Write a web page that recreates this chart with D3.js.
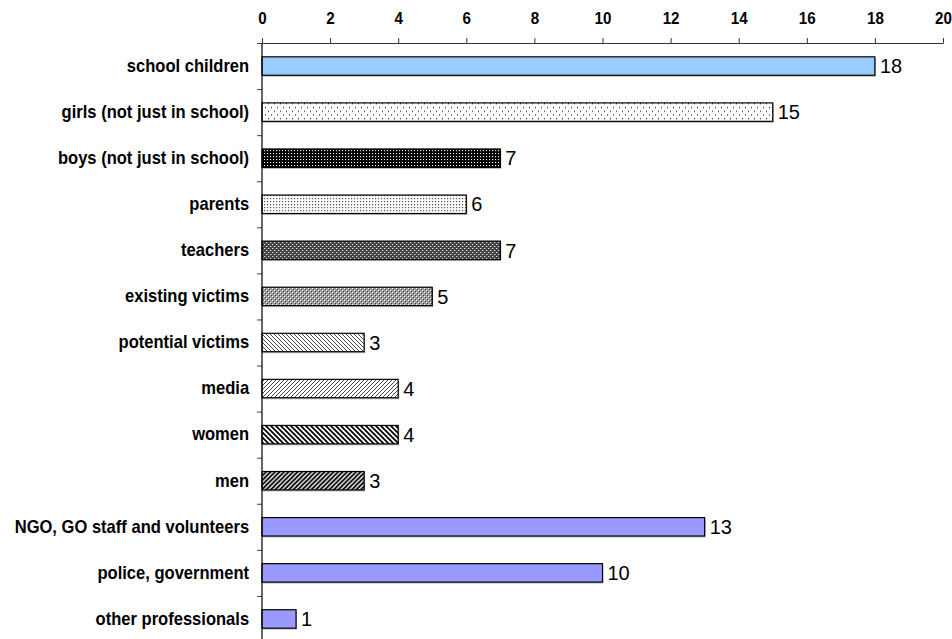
<!DOCTYPE html>
<html>
<head>
<meta charset="utf-8">
<script src="https://cdn.jsdelivr.net/npm/d3@7"></script>
<style>
  html, body { margin: 0; padding: 0; background: #fff; }
  svg { display: block; }
  text { font-family: "Liberation Sans", Arial, sans-serif; }
</style>
</head>
<body>
<svg id="chart" width="952" height="639"></svg>
<script>
const categories = [
  "school children",
  "girls (not just in school)",
  "boys (not just in school)",
  "parents",
  "teachers",
  "existing victims",
  "potential victims",
  "media",
  "women",
  "men",
  "NGO, GO staff and volunteers",
  "police, government",
  "other professionals"
];
const values = [18, 15, 7, 6, 7, 5, 3, 4, 4, 3, 13, 10, 1];
const fills = [
  "#99CCFF", "url(#p-girls)", "url(#p-boys)", "url(#p-parents)", "url(#p-teachers)",
  "url(#p-existing)", "url(#p-potential)", "url(#p-media)", "url(#p-women)", "url(#p-men)",
  "#9999FF", "#9999FF", "#9999FF"
];
const xTicks = [0, 2, 4, 6, 8, 10, 12, 14, 16, 18, 20];

const svg = d3.select("#chart");
const defs = svg.append("defs");

function pat(id, w, h, bg) {
  const p = defs.append("pattern").attr("id", id).attr("patternUnits", "userSpaceOnUse")
    .attr("width", w).attr("height", h);
  p.append("rect").attr("width", w).attr("height", h).attr("fill", bg);
  return p;
}
function dots(p, pts, color, s) {
  pts.forEach(([x, y]) => p.append("rect").attr("x", x).attr("y", y).attr("width", s || 1).attr("height", s || 1).attr("fill", color));
}
// girls: sparse dots
dots(pat("p-girls", 6, 7.5, "#fff"), [[1, 2], [4, 5.75]], "#000", 1);
// boys: black with white dots
dots(pat("p-boys", 3, 3, "#000"), [[0, 0]], "#fff", 1.1);
// parents: light dotted
dots(pat("p-parents", 3, 3, "#fff"), [[0, 0]], "#555", 1.2);
// teachers: dark checker
{
  const p = pat("p-teachers", 4, 4, "#444");
  dots(p, [[0, 0], [2, 2]], "#ddd", 1);
  dots(p, [[1, 0], [3, 2]], "#777", 1);
}
// existing victims: lighter checker
{
  const p = pat("p-existing", 4, 4, "#999");
  dots(p, [[0, 0], [2, 2]], "#fff", 1);
  dots(p, [[1, 1], [3, 3]], "#444", 1);
}
function diag(id, w, sw, color, dir, bg) {
  const p = pat(id, w, w, bg);
  const d = dir > 0
    ? `M0,${w} L${w},0 M${-w / 2},${w / 2} L${w / 2},${-w / 2} M${w / 2},${w * 1.5} L${w * 1.5},${w / 2}`
    : `M0,0 L${w},${w} M${-w / 2},${w / 2} L${w / 2},${w * 1.5} M${w / 2},${-w / 2} L${w * 1.5},${w / 2}`;
  p.append("path").attr("d", d).attr("stroke", color).attr("stroke-width", sw).attr("fill", "none");
}
diag("p-potential", 4, 0.9, "#333", -1, "#fff");
diag("p-media", 4, 0.9, "#333", 1, "#fff");
diag("p-women", 5, 1.8, "#000", -1, "#fff");
diag("p-men", 4.5, 1.8, "#000", 1, "#fff");

const x = d3.scaleLinear().domain([0, 20]).range([262, 943]);
const y = d3.scaleBand().domain(categories).range([43, 642]).paddingInner(0.6).paddingOuter(0.3);
const yIdx = d3.scaleLinear().domain([0, categories.length]).range([43, 642]);

// x axis on top
const xAxis = svg.append("g").attr("transform", "translate(0,43)")
  .call(d3.axisTop(x).tickValues(xTicks).tickSize(5).tickSizeOuter(0).tickPadding(13));
xAxis.select(".domain").attr("stroke", "#333");
xAxis.selectAll(".tick line").attr("stroke", "#333");
xAxis.selectAll(".tick text").attr("font-size", "16px").attr("font-weight", "bold")
  .attr("fill", "#000").attr("font-family", "Liberation Sans, Arial, sans-serif")
  .attr("transform", "scale(0.95,1.05)");

// y axis: boundary ticks
const yAxisTicks = svg.append("g").attr("transform", "translate(262,0)")
  .call(d3.axisLeft(yIdx).tickValues(d3.range(0, categories.length + 1)).tickSize(5).tickFormat(""));
yAxisTicks.select(".domain").remove();
yAxisTicks.selectAll(".tick line").attr("stroke", "#444");

// category labels
const yAxis = svg.append("g").attr("transform", "translate(262,0)")
  .call(d3.axisLeft(y).tickSize(0).tickPadding(14));
yAxis.select(".domain").remove();
yAxis.selectAll(".tick text").attr("font-size", "18px").attr("font-weight", "bold")
  .attr("fill", "#000").attr("font-family", "Liberation Sans, Arial, sans-serif")
  .attr("transform", "scale(0.92,1)");

// bar shadows
svg.append("g").selectAll("rect").data(values).join("rect")
  .attr("x", x(0) + 1)
  .attr("y", (d, i) => y(categories[i]) + 1.5)
  .attr("width", d => x(d) - x(0))
  .attr("height", y.bandwidth())
  .attr("fill", "#bbb");

// bars
svg.append("g").selectAll("rect").data(values).join("rect")
  .attr("x", x(0))
  .attr("y", (d, i) => y(categories[i]))
  .attr("width", d => x(d) - x(0))
  .attr("height", y.bandwidth())
  .attr("fill", (d, i) => fills[i])
  .attr("stroke", "#000").attr("stroke-width", 1.2);

// y axis line
svg.append("line").attr("x1", 262).attr("x2", 262).attr("y1", 43).attr("y2", 639)
  .attr("stroke", "#000").attr("stroke-width", 1.2);

// value labels
svg.append("g").selectAll("text").data(values).join("text")
  .attr("x", d => x(d) + 5)
  .attr("y", (d, i) => y(categories[i]) + y.bandwidth() / 2)
  .attr("dy", "0.36em")
  .attr("font-size", "20px")
  .attr("fill", "#000")
  .text(d => d);
</script>
</body>
</html>
